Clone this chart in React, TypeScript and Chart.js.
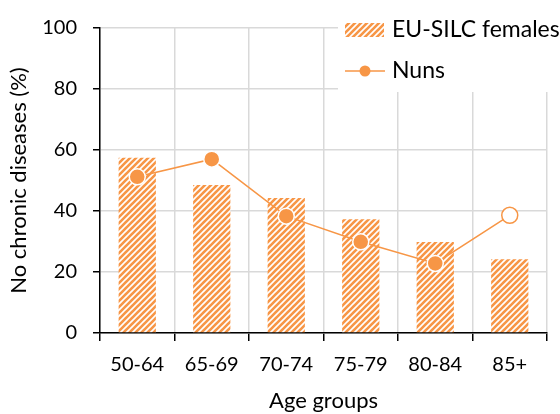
import React, { useEffect, useRef } from "react";
import { Chart, registerables } from "chart.js";

Chart.register(...registerables);

const categories = ["50-64", "65-69", "70-74", "75-79", "80-84", "85+"];
const euSilcFemales = [57.5, 48.5, 44.3, 37.3, 29.8, 24.2];
const nuns = [51.2, 57.0, 38.3, 29.9, 22.8, 38.6];
const yTicks = [0, 20, 40, 60, 80, 100];

const ORANGE = "#F79646";
const FONT = "Lato, 'Open Sans', sans-serif";

function makePattern(): CanvasPattern | string {
  const size = 6;
  const c = document.createElement("canvas");
  c.width = size;
  c.height = size;
  const ctx = c.getContext("2d");
  if (!ctx) return ORANGE;
  ctx.fillStyle = "#ffffff";
  ctx.fillRect(0, 0, size, size);
  ctx.strokeStyle = ORANGE;
  ctx.lineWidth = 2.6;
  ctx.lineCap = "square";
  for (let k = -1; k <= 1; k++) {
    ctx.beginPath();
    ctx.moveTo(k * size, size);
    ctx.lineTo(k * size + size, 0);
    ctx.stroke();
  }
  const p = ctx.createPattern(c, "repeat");
  return p || ORANGE;
}

export default function App() {
  const ref = useRef<HTMLCanvasElement | null>(null);

  useEffect(() => {
    if (!ref.current) return;
    const pattern = makePattern();

    const legendPlugin = {
      id: "customLegend",
      afterDraw(chart: any) {
        const ctx = chart.ctx as CanvasRenderingContext2D;
        ctx.save();
        ctx.fillStyle = "#ffffff";
        ctx.fillRect(338, 4, 222, 88);
        // bar swatch
        ctx.fillStyle = pattern as any;
        ctx.fillRect(345, 23, 39, 14);
        ctx.font = `23px ${FONT}`;
        ctx.fillStyle = "#000000";
        ctx.textBaseline = "middle";
        ctx.textAlign = "left";
        ctx.fillText("EU-SILC females", 392, 30);
        // line swatch
        ctx.strokeStyle = ORANGE;
        ctx.lineWidth = 1.5;
        ctx.beginPath();
        ctx.moveTo(345, 71);
        ctx.lineTo(385, 71);
        ctx.stroke();
        ctx.beginPath();
        ctx.arc(365, 71, 5.5, 0, Math.PI * 2);
        ctx.fillStyle = ORANGE;
        ctx.fill();
        ctx.fillStyle = "#000000";
        ctx.fillText("Nuns", 392, 71);
        ctx.restore();
      },
    };

    const chart = new Chart(ref.current, {
      type: "bar",
      data: {
        labels: categories,
        datasets: [
          {
            type: "line",
            label: "Nuns",
            data: nuns,
            borderColor: ORANGE,
            borderWidth: 1.5,
            pointRadius: 8,
            pointHoverRadius: 8,
            pointBorderWidth: 1.5,
            pointBorderColor: nuns.map((_, i) => (i === nuns.length - 1 ? ORANGE : "#ffffff")),
            pointBackgroundColor: nuns.map((_, i) => (i === nuns.length - 1 ? "#ffffff" : ORANGE)),
            order: 0,
          } as any,
          {
            type: "bar",
            label: "EU-SILC females",
            data: euSilcFemales,
            backgroundColor: pattern as any,
            borderWidth: 0,
            barPercentage: 0.5,
            categoryPercentage: 1,
            order: 1,
          },
        ],
      },
      options: {
        responsive: false,
        animation: false,
        layout: { padding: { top: 24, right: 13, left: 0, bottom: 0 } },
        plugins: {
          legend: { display: false },
          tooltip: { enabled: false },
        },
        scales: {
          x: {
            offset: true,
            grid: {
              offset: true,
              color: "#d9d9d9",
              lineWidth: 1.5,
              tickColor: "#000000",
              tickLength: 8,
            },
            border: { color: "#000000", width: 1.5 },
            ticks: {
              color: "#000000",
              font: { family: FONT, size: 20 },
              padding: 12,
              maxRotation: 0,
            },
            title: {
              display: true,
              text: "Age groups",
              color: "#000000",
              font: { family: FONT, size: 22 },
              padding: { top: 6, bottom: 0 },
            },
            afterFit(scale: any) {
              scale.height = 81;
            },
          },
          y: {
            min: 0,
            max: 100,
            afterBuildTicks(scale: any) {
              scale.ticks = yTicks.map((v) => ({ value: v }));
            },
            grid: {
              color: "#d9d9d9",
              lineWidth: 1.5,
              tickColor: "#000000",
              tickLength: 7,
            },
            border: { color: "#000000", width: 1.5 },
            ticks: {
              color: "#000000",
              font: { family: FONT, size: 20 },
              padding: 16,
            },
            title: {
              display: true,
              text: "No chronic diseases (%)",
              color: "#000000",
              font: { family: FONT, size: 22 },
              padding: { top: 6, bottom: 4 },
            },
            afterFit(scale: any) {
              scale.width = 100;
            },
          },
        },
      },
      plugins: [legendPlugin],
    });

    return () => chart.destroy();
  }, []);

  return (
    <div style={{ position: "absolute", left: 0, top: 0, width: 560, height: 414 }}>
      <canvas ref={ref} width={560} height={414} />
    </div>
  );
}
